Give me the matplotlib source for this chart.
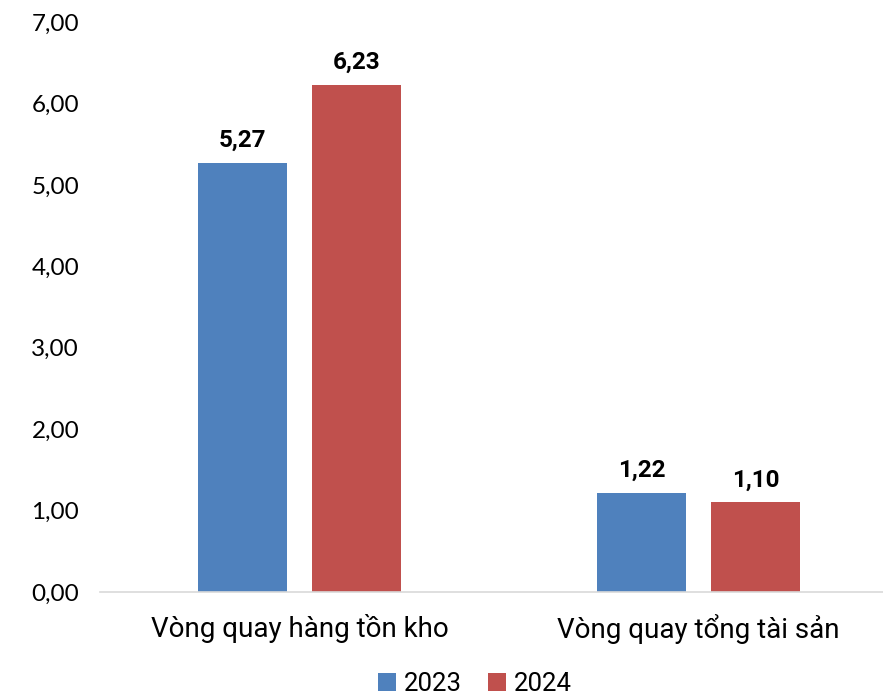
import matplotlib
matplotlib.use("Agg")
import matplotlib.pyplot as plt
import numpy as np

categories = ["Vòng quay hàng tồn kho", "Vòng quay tổng tài sản"]
series_names = ["2023", "2024"]
values_2023 = [5.27, 1.22]
values_2024 = [6.23, 1.10]
y_ticks = [0, 1, 2, 3, 4, 5, 6, 7]

colors = ["#4F81BD", "#C0504D"]

fig = plt.figure(figsize=(8.83, 6.95), dpi=100)
ax = fig.add_axes([100 / 883, 1 - 592 / 695, 798 / 883, 570 / 695])

x = np.arange(len(categories))
width = 0.223
offset = 0.143

for vals, name, col, sgn in zip([values_2023, values_2024], series_names, colors, [-1, 1]):
    bars = ax.bar(x + sgn * offset, vals, width, color=col, label=name, zorder=2)
    for b, v in zip(bars, vals):
        ax.annotate(f"{v:.2f}".replace(".", ","),
                    (b.get_x() + b.get_width() / 2, v),
                    xytext=(0, 8), textcoords="offset points",
                    ha="center", va="bottom", fontsize=17.5, fontweight="bold",
                    family="Roboto", color="#000000")

ax.set_xlim(-0.5, 1.5)
ax.set_ylim(0, 7)
ax.set_yticks(y_ticks)
ax.set_yticklabels([f"{t:.2f}".replace(".", ",") for t in y_ticks],
                   fontsize=17.5, family="Lato", color="#000000")
ax.set_xticks(x)
ax.set_xticklabels(categories, fontsize=20, family="Roboto", color="#000000")

for s in ["top", "right", "left"]:
    ax.spines[s].set_visible(False)
ax.spines["bottom"].set_color("#D9D9D9")
ax.spines["bottom"].set_linewidth(1.2)
ax.tick_params(axis="y", length=0, pad=15)
ax.tick_params(axis="x", length=0, pad=16)

leg = fig.legend(loc="center", bbox_to_anchor=(475 / 883, 1 - 684 / 695), ncol=2,
                 frameon=False, prop={"family": "Roboto", "size": 18.5},
                 handlelength=0.7, handleheight=0.7, handletextpad=0.3,
                 columnspacing=1.0)

fig.savefig("out.png", dpi=100)
